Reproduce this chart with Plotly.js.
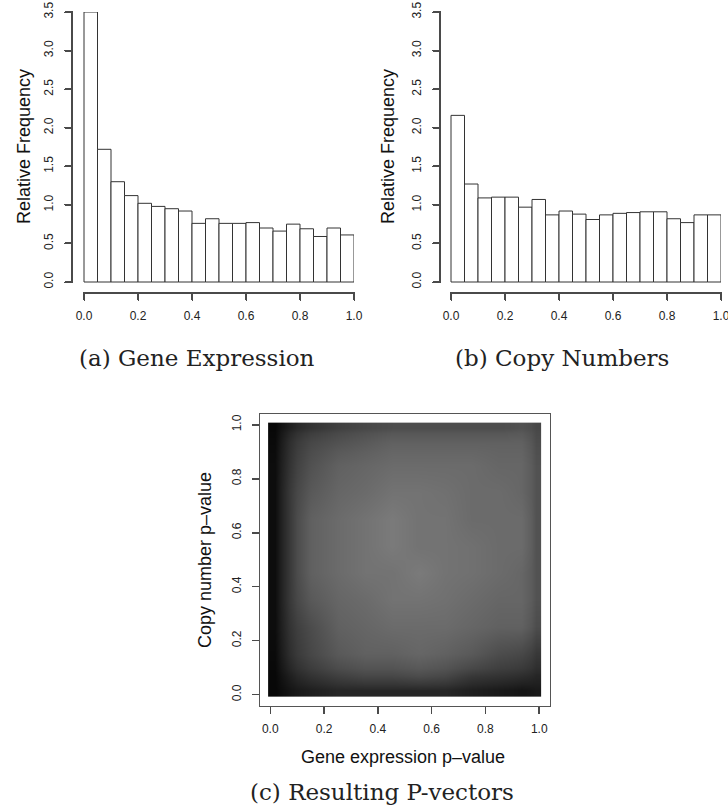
<!DOCTYPE html>
<html>
<head>
<meta charset="utf-8">
<script src="https://cdn.plot.ly/plotly-3.0.1.min.js"></script>
<style>html,body{margin:0;padding:0;background:#fff;}#chart{width:728px;height:810px;}</style>
</head>
<body>
<div id="chart"></div>
<script>
// ---- Data ----
// Histogram bins: 20 bins of width 0.05 on [0,1]; left edges
const binLeft = [0.00,0.05,0.10,0.15,0.20,0.25,0.30,0.35,0.40,0.45,0.50,0.55,0.60,0.65,0.70,0.75,0.80,0.85,0.90,0.95];
const binWidth = 0.05;
// (a) Gene Expression – relative frequency (density)
const geneExprFreq = [3.50,1.72,1.30,1.12,1.02,0.98,0.95,0.92,0.76,0.82,0.76,0.76,0.77,0.70,0.66,0.75,0.69,0.59,0.70,0.61];
// (b) Copy Numbers – relative frequency (density)
const copyNumFreq = [2.16,1.27,1.09,1.10,1.10,0.97,1.07,0.87,0.92,0.88,0.81,0.87,0.89,0.90,0.91,0.91,0.82,0.77,0.87,0.87];

// (c) Scatter of P-vectors, summarised as ink density on a grid
const gridGeneEdges = [-0.008,0.04,0.10,0.20,0.30,0.40,0.50,0.60,0.70,0.80,0.90,0.97,1.008];
const gridCopyEdges = [-0.008,0.04,0.10,0.20,0.30,0.40,0.50,0.60,0.70,0.80,0.90,0.97,1.008];
const pointDensity = [
  [0.97,0.92,0.88,0.85,0.85,0.85,0.85,0.85,0.88,0.90,0.92,0.90],
  [0.97,0.88,0.80,0.75,0.72,0.72,0.70,0.72,0.78,0.80,0.82,0.85],
  [0.96,0.82,0.72,0.65,0.62,0.62,0.60,0.62,0.65,0.70,0.72,0.78],
  [0.95,0.80,0.70,0.62,0.60,0.58,0.58,0.58,0.60,0.62,0.62,0.70],
  [0.95,0.78,0.65,0.60,0.58,0.55,0.55,0.56,0.58,0.60,0.60,0.68],
  [0.95,0.78,0.62,0.58,0.55,0.55,0.52,0.55,0.56,0.58,0.60,0.68],
  [0.95,0.78,0.62,0.58,0.55,0.52,0.55,0.55,0.56,0.58,0.58,0.68],
  [0.95,0.78,0.62,0.58,0.55,0.52,0.55,0.55,0.58,0.58,0.58,0.68],
  [0.95,0.78,0.65,0.60,0.58,0.55,0.55,0.56,0.58,0.58,0.60,0.68],
  [0.95,0.80,0.68,0.62,0.60,0.58,0.58,0.58,0.58,0.60,0.60,0.68],
  [0.96,0.82,0.72,0.68,0.65,0.62,0.62,0.62,0.62,0.62,0.62,0.70],
  [0.97,0.88,0.80,0.75,0.72,0.70,0.70,0.70,0.70,0.70,0.68,0.72]
];

// Tick labels
const histXTicks = [0,0.2,0.4,0.6,0.8,1.0];
const histXLabels = ['0.0','0.2','0.4','0.6','0.8','1.0'];
const histYTicks = [0,0.5,1.0,1.5,2.0,2.5,3.0,3.5];
const histYLabels = ['0.0','0.5','1.0','1.5','2.0','2.5','3.0','3.5'];
const scatTicks = [0,0.2,0.4,0.6,0.8,1.0];
const scatLabels = ['0.0','0.2','0.4','0.6','0.8','1.0'];

// ---- Build ----
const W = 728, H = 810;
const px = v => v / W;
const py = v => 1 - v / H;

const binCenters = binLeft.map(b => b + binWidth / 2);
const lineCol = '#333333';
const axCol = '#4a4a4a';
const sans = 'Liberation Sans, Arial, Helvetica, sans-serif';
const tickFont = {family: sans, size: 12, color: '#222'};
const labFont = {family: sans, size: 18, color: '#111'};
const capFont = {family: 'DejaVu Serif, serif', size: 23, color: '#222'};

// Histogram panel geometry (pixels): data area, and R-style detached axis offsets
const histTop = 12, histBottom = 282, histAxisY = 293;
function histGeom(axisX, dataLeft, dataRight) {
  const xr0 = -(dataLeft - axisX) / (dataRight - dataLeft);
  const yMax = histYTicks[histYTicks.length - 1];
  const yr0 = -(histAxisY - histBottom) / (histBottom - histTop) * yMax;
  return {axisX, dataLeft, dataRight, xr0, yr0, yMax};
}
const gA = histGeom(72, 84, 354);
const gB = histGeom(440, 451, 721);

const traces = [
  {type:'bar', x: binCenters, y: geneExprFreq, width: binWidth, xaxis:'x', yaxis:'y',
   marker:{color:'#ffffff', line:{color:lineCol, width:1}}, hoverinfo:'skip'},
  {type:'bar', x: binCenters, y: copyNumFreq, width: binWidth, xaxis:'x2', yaxis:'y2',
   marker:{color:'#ffffff', line:{color:lineCol, width:1}}, hoverinfo:'skip'},
  {type:'heatmap', x: gridGeneEdges, y: gridCopyEdges, z: pointDensity, xaxis:'x3', yaxis:'y3',
   zmin:0, zmax:1, zsmooth:'best', colorscale:[[0,'#ffffff'],[1,'#000000']], showscale:false, hoverinfo:'skip'}
];

function histX(g, anchor) {
  return {domain:[px(g.axisX), px(g.dataRight)], range:[g.xr0, 1], anchor: anchor,
    tickvals: histXTicks, ticktext: histXLabels, ticks:'outside', ticklen:7, tickcolor:axCol,
    ticklabelstandoff:5, ticklabeloverflow:'allow',
    showline:false, showgrid:false, zeroline:false, tickfont: tickFont, fixedrange:true};
}
function histY(g, anchor) {
  return {domain:[py(histAxisY), py(histTop)], range:[g.yr0, g.yMax], anchor: anchor,
    tickvals: histYTicks, ticktext: histYLabels, ticks:'outside', ticklen:7, tickcolor:axCol,
    ticklabelstandoff:6, ticklabeloverflow:'allow', tickangle:-90,
    showline:false, showgrid:false, zeroline:false, tickfont: tickFont, fixedrange:true};
}

// R-style detached axis lines + tick marks, as thin filled strips placed from the tick arrays
function rAxisShapes(g) {
  const xPix = t => g.dataLeft + t * (g.dataRight - g.dataLeft);
  const yPix = t => histBottom - t / g.yMax * (histBottom - histTop);
  const strip = (x0, x1, y0, y1) => ({type:'rect', xref:'paper', yref:'paper', layer:'above',
     x0: px(x0), x1: px(x1), y0: py(y0), y1: py(y1), fillcolor: axCol, line:{width:0}});
  const s = [];
  const xl = histXTicks[histXTicks.length - 1], yl = histYTicks[histYTicks.length - 1];
  s.push(strip(xPix(histXTicks[0]) - 1, xPix(xl) + 1, histAxisY - 1, histAxisY + 1));
  histXTicks.forEach(t => s.push(strip(Math.round(xPix(t)) - 1, Math.round(xPix(t)) + 1, histAxisY, histAxisY + 7)));
  s.push(strip(g.axisX - 1, g.axisX + 1, yPix(yl) - 1, yPix(histYTicks[0]) + 1));
  histYTicks.forEach(t => s.push(strip(g.axisX - 7, g.axisX, Math.round(yPix(t)) - 1, Math.round(yPix(t)) + 1)));
  return s;
}

const layout = {
  width: W, height: H, margin:{l:0,r:0,t:0,b:0}, paper_bgcolor:'#fff', plot_bgcolor:'rgba(0,0,0,0)',
  showlegend:false, bargap:0,
  xaxis: histX(gA, 'y'),
  yaxis: histY(gA, 'x'),
  xaxis2: histX(gB, 'y2'),
  yaxis2: histY(gB, 'x2'),
  xaxis3: {domain:[px(259.5), px(550)], range:[-0.04,1.04], anchor:'y3',
    tickvals: scatTicks, ticktext: scatLabels, ticks:'outside', ticklen:7, tickwidth:1.5, tickcolor:axCol, ticklabelstandoff:5,
    showline:true, mirror:true, linecolor:'#555', linewidth:1, showgrid:false, zeroline:false, tickfont: tickFont, fixedrange:true},
  yaxis3: {domain:[py(705.5), py(414)], range:[-0.04,1.04], anchor:'x3',
    tickvals: scatTicks, ticktext: scatLabels, ticks:'outside', ticklen:7, tickwidth:1.5, tickcolor:axCol, tickangle:-90, ticklabelstandoff:6,
    showline:true, mirror:true, linecolor:'#555', linewidth:1, showgrid:false, zeroline:false, tickfont: tickFont, fixedrange:true},
  shapes: [].concat(rAxisShapes(gA), rAxisShapes(gB)),
  annotations: [
    {text:'Relative Frequency', textangle:-90, x:px(24), y:py(147), xref:'paper', yref:'paper', showarrow:false,
     xanchor:'center', yanchor:'middle', font: labFont},
    {text:'Relative Frequency', textangle:-90, x:px(388), y:py(147), xref:'paper', yref:'paper', showarrow:false,
     xanchor:'center', yanchor:'middle', font: labFont},
    {text:'Copy number p–value', textangle:-90, x:px(205), y:py(560), xref:'paper', yref:'paper', showarrow:false,
     xanchor:'center', yanchor:'middle', font: labFont},
    {text:'Gene expression p–value', x:px(403), y:py(757), xref:'paper', yref:'paper', showarrow:false,
     xanchor:'center', yanchor:'middle', font: labFont},
    {text:'(a) Gene Expression', x:px(197), y:py(358), xref:'paper', yref:'paper', showarrow:false,
     xanchor:'center', yanchor:'middle', font: capFont},
    {text:'(b) Copy Numbers', x:px(562), y:py(358), xref:'paper', yref:'paper', showarrow:false,
     xanchor:'center', yanchor:'middle', font: capFont},
    {text:'(c) Resulting P-vectors', x:px(382), y:py(792), xref:'paper', yref:'paper', showarrow:false,
     xanchor:'center', yanchor:'middle', font: capFont}
  ]
};

Plotly.newPlot('chart', traces, layout, {staticPlot:true, displayModeBar:false});
</script>
</body>
</html>
